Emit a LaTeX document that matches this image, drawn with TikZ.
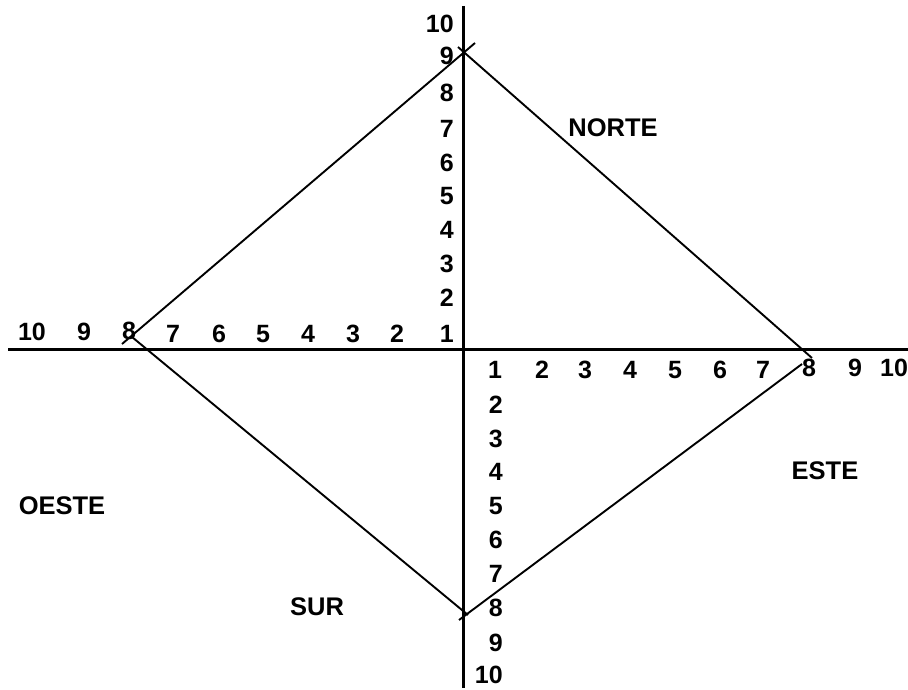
\documentclass[tikz,border=0pt]{standalone}
\usepackage{fontspec}
\setmainfont{Liberation Sans}
\begin{document}
\begin{tikzpicture}[x=1pt,y=-1pt,
  axisline/.style={line width=3pt},
  edge/.style={line width=1.9pt},
  num/.style={font=\fontsize{25}{30}\selectfont\bfseries, inner sep=0pt},
  numr/.style={num, anchor=east},
  word/.style={font=\fontsize{25.5}{30}\selectfont\bfseries, inner sep=0pt}]
\useasboundingbox (0,0) rectangle (908,690);
% axes
\coordinate (vtop) at (463,6);
\coordinate (vbot) at (463,688);
\coordinate (hleft) at (8,349);
\coordinate (hright) at (908,349);
\draw[axisline] (vtop) -- (vbot);
\draw[axisline] (hleft) -- (hright);
% diamond
\coordinate (a1) at (122,344); \coordinate (a2) at (475,43);
\coordinate (b1) at (458,47);  \coordinate (b2) at (812,358);
\coordinate (c1) at (132,337); \coordinate (c2) at (468,615);
\coordinate (d1) at (459,620); \coordinate (d2) at (802,364);
\draw[edge] (a1) -- (a2);
\draw[edge] (b1) -- (b2);
\draw[edge] (c1) -- (c2);
\draw[edge] (d1) -- (d2);
% upper vertical labels
\node[numr] (u10) at (454,24) {10};
\node[numr] (u9) at (454,56) {9};
\node[numr] (u8) at (454,93) {8};
\node[numr] (u7) at (454,129) {7};
\node[numr] (u6) at (454,163) {6};
\node[numr] (u5) at (454,196) {5};
\node[numr] (u4) at (454,230) {4};
\node[numr] (u3) at (454,264) {3};
\node[numr] (u2) at (454,298) {2};
\node[numr] (u1) at (454,334) {1};
% left horizontal labels
\node[num] (l10) at (32,332) {10};
\node[num] (l9) at (84,332) {9};
\node[num] (l8) at (129,331) {8};
\node[num] (l7) at (173,334) {7};
\node[num] (l6) at (219,334) {6};
\node[num] (l5) at (263,334) {5};
\node[num] (l4) at (308,334) {4};
\node[num] (l3) at (353,334) {3};
\node[num] (l2) at (397,334) {2};
% right horizontal labels
\node[num] (r1) at (495,370) {1};
\node[num] (r2) at (542,370) {2};
\node[num] (r3) at (585,370) {3};
\node[num] (r4) at (630,370) {4};
\node[num] (r5) at (675,370) {5};
\node[num] (r6) at (720,370) {6};
\node[num] (r7) at (763,370) {7};
\node[num] (r8) at (809,368) {8};
\node[num] (r9) at (855,368) {9};
\node[num] (r10) at (894,368) {10};
% lower vertical labels
\node[numr] (d2l) at (503,405) {2};
\node[numr] (d3l) at (503,439) {3};
\node[numr] (d4l) at (503,472) {4};
\node[numr] (d5l) at (503,506) {5};
\node[numr] (d6l) at (503,540) {6};
\node[numr] (d7l) at (503,574) {7};
\node[numr] (d8l) at (503,608) {8};
\node[numr] (d9l) at (503,643) {9};
\node[numr] (d10l) at (503,675) {10};
% words
\node[word] (norte) at (613,128) {NORTE};
\node[word] (oeste) at (62,506) {OESTE};
\node[word] (sur) at (317,607) {SUR};
\node[word] (este) at (825,471) {ESTE};
\end{tikzpicture}
\end{document}
